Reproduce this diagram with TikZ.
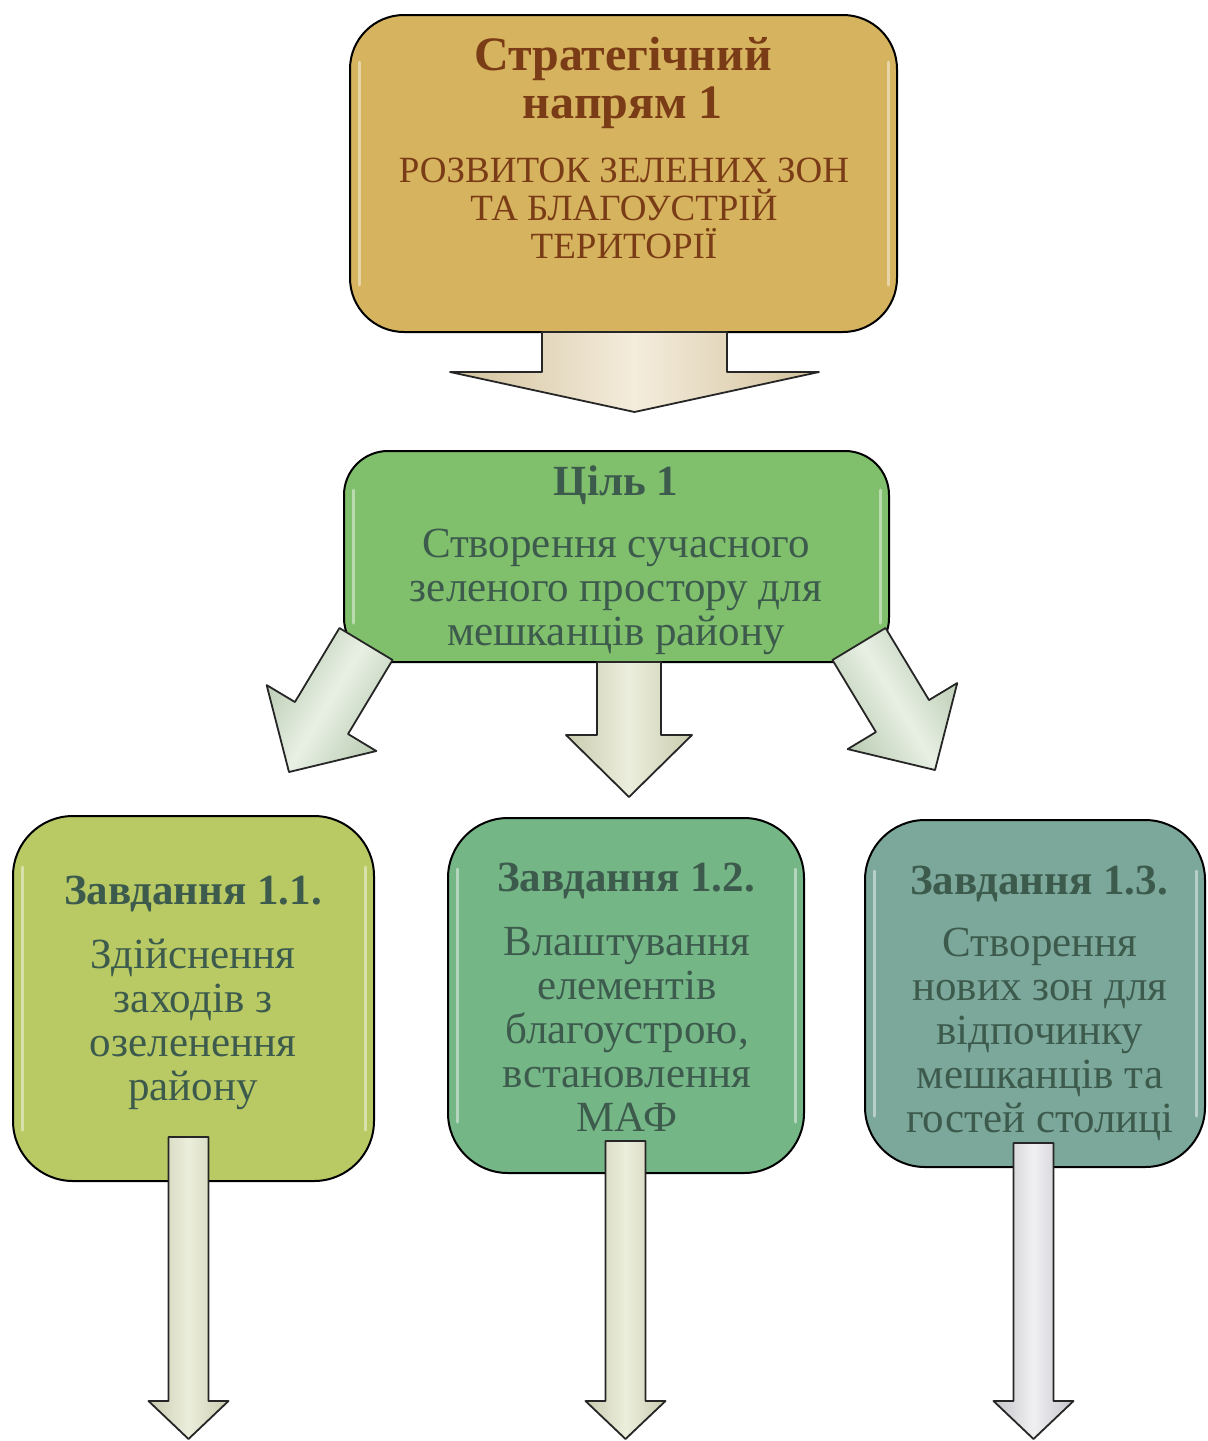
\documentclass[tikz,border=0pt]{standalone}
\usepackage{fontspec}
\setmainfont{Liberation Serif}
\usetikzlibrary{calc}
\definecolor{goldfill}{HTML}{D6B35F}
\definecolor{cilfill}{HTML}{80BF6C}
\definecolor{zafill}{HTML}{B9CA65}
\definecolor{zbfill}{HTML}{75B687}
\definecolor{zcfill}{HTML}{7CA89B}
\definecolor{browntext}{HTML}{7A3C16}
\definecolor{greentext}{HTML}{3D5B4D}
\definecolor{beigeedge}{HTML}{D2C29C}
\definecolor{beigemid}{HTML}{F4ECDC}
\definecolor{sageedge}{HTML}{B9CBB2}
\definecolor{sagemid}{HTML}{E8F0E4}
\definecolor{oliveedge}{HTML}{C9CCAE}
\definecolor{olivemid}{HTML}{ECEEDD}
\definecolor{greyedge}{HTML}{C4C4CA}
\definecolor{greymid}{HTML}{F0F0F2}
\newcommand\blockarrow[6]{%
  \path ($(#3)!#6!(#2)$) coordinate (ba-h);
  \draw[#1] ($(#2)!#4!90:(#3)$) -- ($(ba-h)!#4!90:(#3)$) -- ($(ba-h)!#5!90:(#3)$)
    -- (#3) -- ($(ba-h)!#5!-90:(#3)$) -- ($(ba-h)!#4!-90:(#3)$) -- ($(#2)!#4!-90:(#3)$) -- cycle;
}
\begin{document}
\begin{tikzpicture}[x=0.5pt,y=-0.5pt,
  box/.style={draw=black, line width=1pt, inner sep=0pt},
  hl/.style={white, opacity=.45, line width=1.5pt, line cap=round},
  arr/.style={draw=black!85, line width=0.9pt, line join=round},
  brownbold/.style={text=browntext, font=\bfseries\fontsize{24}{24}\selectfont, align=center, inner sep=0pt},
  brownreg/.style={text=browntext, font=\fontsize{18.5}{19}\selectfont, align=center, inner sep=0pt},
  greenbold/.style={text=greentext, font=\bfseries\fontsize{21.5}{22}\selectfont, align=center, inner sep=0pt},
  greenreg/.style={text=greentext, font=\fontsize{21.5}{22}\selectfont, align=center, inner sep=0pt}]
\useasboundingbox (0,0) rectangle (1207,1441);
\fill[white] (0,0) rectangle (1207,1441);

% boxes
\node[box, fill=goldfill, rounded corners=27pt, minimum width=273.5pt, minimum height=158.5pt] (top) at (623.5,173.5) {};
\node[box, fill=cilfill, rounded corners=22pt, minimum width=272.5pt, minimum height=105.5pt] (cil) at (616.5,556.5) {};
\node[box, fill=zafill, rounded corners=30pt, minimum width=180.5pt, minimum height=182.5pt] (za) at (193.5,998.5) {};
\node[box, fill=zbfill, rounded corners=30pt, minimum width=178pt, minimum height=177.5pt] (zb) at (626,995.5) {};
\node[box, fill=zcfill, rounded corners=30pt, minimum width=170pt, minimum height=173.5pt] (zc) at (1035,993.5) {};

% highlights
\foreach \b/\d in {top/24pt, cil/20pt, za/26pt, zb/26pt, zc/26pt}{
  \draw[hl] ([xshift=5pt,yshift=-\d]\b.north west) -- ([xshift=5pt,yshift=\d]\b.south west);
  \draw[hl] ([xshift=-5pt,yshift=-\d]\b.north east) -- ([xshift=-5pt,yshift=\d]\b.south east);
}

% texts
\node[brownbold] (toph) at (623,83) {Стратегічний\\напрям 1};
\node[brownreg] (topb) at (624,208) {РОЗВИТОК ЗЕЛЕНИХ ЗОН\\ТА БЛАГОУСТРІЙ\\ТЕРИТОРІЇ};
\node[greenbold] (cilh) at (616,485) {Ціль 1};
\node[greenreg] (cilb) at (616,592) {Створення сучасного\\зеленого простору для\\мешканців району};
\node[greenbold] (zah) at (193,894) {Завдання 1.1.};
\node[greenreg] (zab) at (193,1024.5) {Здійснення\\заходів з\\озеленення\\району};
\node[greenbold] (zbh) at (626,881) {Завдання 1.2.};
\node[greenreg] (zbb) at (627,1029.5) {Влаштування\\елементів\\благоустрою,\\встановлення\\МАФ};
\node[greenbold] (zch) at (1039,884) {Завдання 1.3.};
\node[greenreg] (zcb) at (1040,1034) {Створення\\нових зон для\\відпочинку\\мешканців та\\гостей столиці};

% connector coordinates
\coordinate (a0s) at (634.5,332);
\coordinate (a0t) at (634.5,412);
\coordinate (a1s) at (366,644);
\coordinate (a1t) at (289,772);
\coordinate (a2s) at (629,662);
\coordinate (a2t) at (629,797);
\coordinate (a3s) at (859,644);
\coordinate (a3t) at (935,770);
\coordinate (b1s) at (188.5,1137);
\coordinate (b1t) at (188.5,1439);
\coordinate (b2s) at (625.5,1141);
\coordinate (b2t) at (625.5,1439);
\coordinate (b3s) at (1033.5,1143);
\coordinate (b3t) at (1033.5,1439);

% arrows
\blockarrow{arr, left color=beigeedge, right color=beigeedge, middle color=beigemid}{a0s}{a0t}{46.25pt}{92.25pt}{20pt}
\blockarrow{arr, left color=sageedge, right color=sageedge, middle color=sagemid, shading angle=59}{a1s}{a1t}{15.5pt}{32pt}{31.5pt}
\blockarrow{arr, left color=oliveedge, right color=oliveedge, middle color=olivemid}{a2s}{a2t}{16pt}{31.5pt}{31pt}
\blockarrow{arr, left color=sageedge, right color=sageedge, middle color=sagemid, shading angle=121}{a3s}{a3t}{15.5pt}{32pt}{31.5pt}
\blockarrow{arr, left color=oliveedge, right color=oliveedge, middle color=olivemid}{b1s}{b1t}{10pt}{20pt}{19pt}
\blockarrow{arr, left color=oliveedge, right color=oliveedge, middle color=olivemid}{b2s}{b2t}{10pt}{20pt}{19pt}
\blockarrow{arr, left color=greyedge, right color=greyedge, middle color=greymid}{b3s}{b3t}{10pt}{20pt}{19pt}
\end{tikzpicture}
\end{document}
